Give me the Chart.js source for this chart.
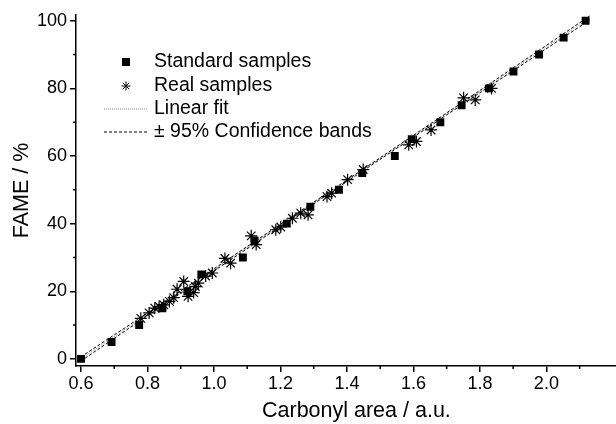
<!DOCTYPE html>
<html>
<head>
<meta charset="utf-8">
<script src="https://cdn.jsdelivr.net/npm/chart.js@4/dist/chart.umd.min.js"></script>
<style>
  html, body { margin: 0; padding: 0; background: #fff; overflow: hidden; }
  #wrap { width: 616px; height: 424px; overflow: hidden; }
</style>
</head>
<body>
<div id="wrap"><canvas id="fameChart" width="644" height="424"></canvas></div>
<script>
// standard samples (carbonyl area, FAME %)
const stdX = [0.600, 0.692, 0.775, 0.845, 0.920, 0.962, 1.087, 1.122, 1.219, 1.290, 1.376,
              1.446, 1.544, 1.595, 1.681, 1.745, 1.827, 1.901, 1.978, 2.052, 2.118];
const stdY = [0, 5, 10, 15, 20, 25, 30, 35, 40, 45, 50, 55, 60, 65, 70, 75, 80, 85, 90, 95, 100];

// real samples
const realX = [0.780, 0.805, 0.822, 0.835, 0.849, 0.866, 0.879, 0.889, 0.909, 0.922, 0.939, 0.944,
               0.953, 0.975, 0.995, 1.033, 1.050, 1.112, 1.127, 1.186, 1.201, 1.236, 1.261, 1.283,
               1.340, 1.354, 1.402, 1.449, 1.586, 1.609, 1.653, 1.751, 1.786, 1.835];
const realY = [12.0, 13.6, 15.0, 15.5, 16.0, 17.0, 18.1, 20.6, 22.9, 18.5, 19.6, 21.4,
               22.4, 24.5, 25.4, 29.7, 28.3, 36.4, 33.8, 38.2, 39.0, 41.6, 43.1, 42.6,
               48.0, 49.0, 53.0, 56.0, 63.3, 64.3, 67.7, 77.2, 76.6, 80.0];

// linear fit and 95% confidence bands
const fitX = [0.60, 2.13];
const fitY = [0, 100.8];
const bandX = [0.60, 0.90, 1.20, 1.36, 1.50, 1.80, 2.13];
const bandUpper = [0.6, 20.1, 39.8, 50.3, 59.5, 79.4, 101.4];
const bandLower = [-0.6, 19.4, 39.2, 49.8, 59.0, 78.7, 100.2];

// tick labels
const xMajor = [0.6, 0.8, 1.0, 1.2, 1.4, 1.6, 1.8, 2.0];
const xMinor = [0.7, 0.9, 1.1, 1.3, 1.5, 1.7, 1.9, 2.1];
const yMajor = [0, 20, 40, 60, 80, 100];
const yMinor = [10, 30, 50, 70, 90];

const FONT = '"Liberation Sans", Arial, sans-serif';

function pairs(xs, ys) {
    return xs.map((x, i) => ({ x: x, y: ys[i] }));
}

const minorTicks = {
    id: 'minorTicks',
    afterDraw(chart) {
        const ctx = chart.ctx;
        const xs = chart.scales.x, ys = chart.scales.y;
        ctx.save();
        ctx.strokeStyle = '#000';
        ctx.lineWidth = 1.5;
        ctx.beginPath();
        xMinor.forEach(v => {
            const px = xs.getPixelForValue(v);
            ctx.moveTo(px, xs.top);
            ctx.lineTo(px, xs.top + 3);
        });
        yMinor.forEach(v => {
            const py = ys.getPixelForValue(v);
            ctx.moveTo(ys.right, py);
            ctx.lineTo(ys.right - 3, py);
        });
        ctx.stroke();
        ctx.restore();
    }
};

const insideLegend = {
    id: 'insideLegend',
    afterDraw(chart) {
        const ctx = chart.ctx;
        ctx.save();
        ctx.fillStyle = '#000';
        ctx.font = '19.5px ' + FONT;
        ctx.textBaseline = 'middle';
        const tx = 154;
        const rows = [62, 86, 109, 132];

        // square
        ctx.fillRect(122, rows[0] - 4, 8, 8);
        // star
        ctx.strokeStyle = '#000';
        ctx.lineWidth = 1;
        ctx.beginPath();
        const r = 4.5, cx = 126, cy = rows[1];
        for (let k = 0; k < 4; k++) {
            const a = k * Math.PI / 4;
            ctx.moveTo(cx - r * Math.cos(a), cy - r * Math.sin(a));
            ctx.lineTo(cx + r * Math.cos(a), cy + r * Math.sin(a));
        }
        ctx.stroke();
        // linear fit
        ctx.strokeStyle = '#888';
        ctx.setLineDash([1, 1]);
        ctx.beginPath();
        ctx.moveTo(104, rows[2]);
        ctx.lineTo(147, rows[2]);
        ctx.stroke();
        // bands
        ctx.strokeStyle = '#000';
        ctx.setLineDash([3, 2]);
        ctx.beginPath();
        ctx.moveTo(104, rows[3]);
        ctx.lineTo(147, rows[3]);
        ctx.stroke();
        ctx.setLineDash([]);

        ctx.fillText('Standard samples', tx, rows[0]);
        ctx.fillText('Real samples', tx, rows[1]);
        ctx.fillText('Linear fit', tx, rows[2]);
        ctx.fillText('\u00B1 95% Confidence bands', tx, rows[3]);
        ctx.restore();
    }
};

function renderChart() {
    const ctx = document.getElementById('fameChart').getContext('2d');
    new Chart(ctx, {
        type: 'scatter',
        data: {
            datasets: [
                {
                    label: 'Standard samples',
                    data: pairs(stdX, stdY),
                    pointStyle: 'rect',
                    pointRadius: 5.6,
                    backgroundColor: '#000',
                    borderColor: '#000',
                    borderWidth: 0,
                    order: 0
                },
                {
                    label: 'Real samples',
                    data: pairs(realX, realY),
                    pointStyle: 'star',
                    pointRadius: 6,
                    borderColor: '#000',
                    backgroundColor: '#000',
                    borderWidth: 1.2,
                    order: 1
                },
                {
                    label: 'Linear fit',
                    data: pairs(fitX, fitY),
                    showLine: true,
                    pointRadius: 0,
                    borderColor: '#888',
                    borderWidth: 1,
                    borderDash: [1, 1],
                    order: 3
                },
                {
                    label: 'Upper band',
                    data: pairs(bandX, bandUpper),
                    showLine: true,
                    pointRadius: 0,
                    borderColor: '#000',
                    borderWidth: 1,
                    borderDash: [3, 2],
                    tension: 0.3,
                    order: 2
                },
                {
                    label: 'Lower band',
                    data: pairs(bandX, bandLower),
                    showLine: true,
                    pointRadius: 0,
                    borderColor: '#000',
                    borderWidth: 1,
                    borderDash: [3, 2],
                    tension: 0.3,
                    order: 2
                }
            ]
        },
        options: {
            responsive: false,
            animation: false,
            layout: { padding: { top: 15, left: 0, right: 0, bottom: 0 } },
            plugins: { legend: { display: false }, tooltip: { enabled: false } },
            scales: {
                x: {
                    type: 'linear',
                    min: 0.585,
                    max: 2.272,
                    afterBuildTicks: s => { s.ticks = xMajor.map(v => ({ value: v })); },
                    afterFit: s => { s.height = 58; },
                    border: { display: true, color: '#000', width: 1.5 },
                    grid: { drawOnChartArea: false, drawTicks: true, tickLength: 6, color: '#000', lineWidth: 1.5 },
                    ticks: {
                        color: '#000',
                        font: { family: FONT, size: 18 },
                        padding: 1,
                        maxRotation: 0,
                        callback: v => v.toFixed(1)
                    },
                    title: {
                        display: true,
                        text: 'Carbonyl area / a.u.',
                        color: '#000',
                        font: { family: FONT, size: 21.5 },
                        padding: { top: 0, bottom: 0 }
                    }
                },
                y: {
                    type: 'linear',
                    min: -2.1,
                    max: 101.7,
                    afterBuildTicks: s => { s.ticks = yMajor.map(v => ({ value: v })); },
                    afterFit: s => { s.width = 76; },
                    border: { display: true, color: '#000', width: 1.5 },
                    grid: { drawOnChartArea: false, drawTicks: true, tickLength: 6, color: '#000', lineWidth: 1.5 },
                    ticks: {
                        color: '#000',
                        font: { family: FONT, size: 18 },
                        padding: 3
                    },
                    title: {
                        display: true,
                        text: 'FAME / %',
                        color: '#000',
                        font: { family: FONT, size: 21.5 },
                        padding: { top: 9, bottom: 0 }
                    }
                }
            }
        },
        plugins: [minorTicks, insideLegend]
    });
}

window.onload = renderChart;
</script>
</body>
</html>
